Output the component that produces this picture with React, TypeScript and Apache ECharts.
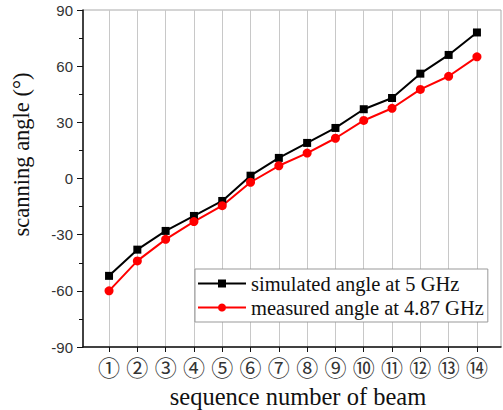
import React, { useEffect, useRef } from "react";
import * as echarts from "echarts";

const beams = [1, 2, 3, 4, 5, 6, 7, 8, 9, 10, 11, 12, 13, 14];
const beamLabels = ["①", "②", "③", "④", "⑤", "⑥", "⑦", "⑧", "⑨", "⑩", "⑪", "⑫", "⑬", "⑭"];
const simulated = [-52, -38, -28, -20, -12, 1.5, 11, 19, 27, 37, 43, 56, 66, 78];
const measured = [-60, -44, -32.5, -23, -14.5, -2, 6.8, 13.6, 21.5, 31, 37.5, 47.6, 54.6, 65];
const yTicks = { min: -90, max: 90, interval: 30 };

export default function App() {
  const ref = useRef<HTMLDivElement>(null);
  useEffect(() => {
    if (!ref.current) return;
    const chart = echarts.init(ref.current, undefined, { renderer: "svg" });
    chart.setOption({
      animation: false,
      backgroundColor: "#ffffff",
      grid: {
        left: 83,
        right: 2,
        top: 10,
        bottom: 63,
        containLabel: false,
        outerBoundsMode: "none",
        show: true,
        borderColor: "#aaaaaa",
        borderWidth: 1,
        backgroundColor: "transparent",
      },
      legend: {
        orient: "vertical",
        left: 195,
        top: 269,
        backgroundColor: "#ffffff",
        borderColor: "#999999",
        borderWidth: 1,
        borderRadius: 0,
        padding: [4, 4, 4, 2],
        itemWidth: 48,
        itemHeight: 10,
        itemGap: 3,
        textStyle: { fontFamily: "Liberation Serif", fontSize: 20.5, color: "#111" },
        data: ["simulated angle at 5 GHz", "measured angle at 4.87 GHz"],
      },
      xAxis: {
        type: "value",
        min: 0.08,
        max: 14.85,
        name: "sequence number of beam",
        nameLocation: "middle",
        nameGap: 37,
        nameTextStyle: {
          fontFamily: "Liberation Serif",
          fontSize: 24.5,
          color: "#111",
          padding: [0, 0, 0, 12],
        },
        axisLine: { onZero: false, lineStyle: { color: "#111", width: 1.5 } },
        axisTick: {
          customValues: beams,
          length: 5,
          inside: false,
          lineStyle: { color: "#111" },
        },
        axisLabel: {
          customValues: beams,
          formatter: (v: number) => beamLabels[Math.round(v) - 1] ?? "",
          fontFamily: "Noto Sans CJK JP",
          fontSize: 22,
          color: "#333",
          margin: 8,
        },
        splitLine: { show: true, lineStyle: { color: "#c8c8c8", width: 1 } },
      },
      yAxis: {
        type: "value",
        min: yTicks.min,
        max: yTicks.max,
        interval: yTicks.interval,
        name: "scanning angle (°)",
        nameLocation: "middle",
        nameGap: 50,
        nameTextStyle: {
          fontFamily: "Liberation Serif",
          fontSize: 22.5,
          color: "#111",
          padding: [0, 0, 0, 48],
        },
        axisLine: { show: true, onZero: false, lineStyle: { color: "#111", width: 1.5 } },
        axisTick: { show: true, length: 6, inside: false, lineStyle: { color: "#111" } },
        minorTick: { show: true, splitNumber: 2, length: 4, lineStyle: { color: "#111" } },
        axisLabel: { fontFamily: "Liberation Sans", fontSize: 15, color: "#333", margin: 10 },
        splitLine: { show: false },
      },
      series: [
        {
          name: "simulated angle at 5 GHz",
          type: "line",
          data: beams.map((b, i) => [b, simulated[i]]),
          symbol: "rect",
          symbolSize: 8,
          color: "#000000",
          lineStyle: { color: "#000000", width: 2 },
          itemStyle: { color: "#000000" },
        },
        {
          name: "measured angle at 4.87 GHz",
          type: "line",
          data: beams.map((b, i) => [b, measured[i]]),
          symbol: "circle",
          symbolSize: 9,
          color: "#ff0000",
          lineStyle: { color: "#ff0000", width: 2 },
          itemStyle: { color: "#ff0000" },
        },
      ],
    });
    return () => chart.dispose();
  }, []);
  return <div ref={ref} style={{ width: 503, height: 410, position: "absolute", left: 0, top: 0 }} />;
}
